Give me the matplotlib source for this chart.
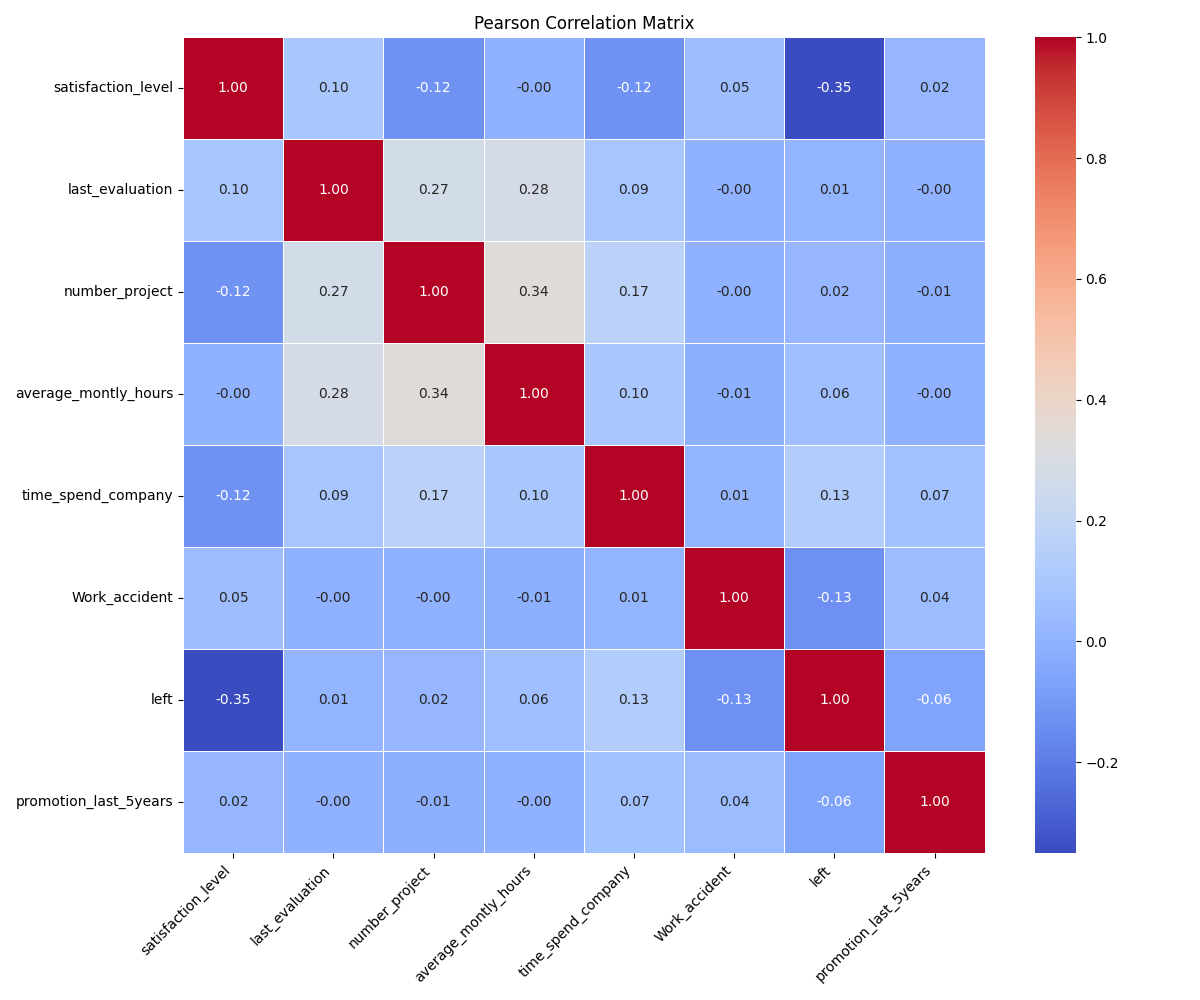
import matplotlib
matplotlib.use("Agg")
import matplotlib.pyplot as plt
import seaborn as sns
import numpy as np
import pandas as pd

labels = ["satisfaction_level", "last_evaluation", "number_project",
          "average_montly_hours", "time_spend_company", "Work_accident",
          "left", "promotion_last_5years"]

row_satisfaction = [1.00, 0.10, -0.12, -0.004, -0.12, 0.05, -0.351, 0.02]
row_last_eval = [0.10, 1.00, 0.27, 0.28, 0.09, -0.004, 0.01, -0.004]
row_num_project = [-0.12, 0.27, 1.00, 0.34, 0.17, -0.004, 0.02, -0.01]
row_avg_hours = [-0.004, 0.28, 0.34, 1.00, 0.10, -0.01, 0.06, -0.004]
row_time_spend = [-0.12, 0.09, 0.17, 0.10, 1.00, 0.01, 0.13, 0.07]
row_work_accident = [0.05, -0.004, -0.004, -0.01, 0.01, 1.00, -0.13, 0.04]
row_left = [-0.351, 0.01, 0.02, 0.06, 0.13, -0.13, 1.00, -0.06]
row_promotion = [0.02, -0.004, -0.01, -0.004, 0.07, 0.04, -0.06, 1.00]

corr = pd.DataFrame([row_satisfaction, row_last_eval, row_num_project, row_avg_hours,
                     row_time_spend, row_work_accident, row_left, row_promotion],
                    index=labels, columns=labels)

fig, ax = plt.subplots(figsize=(12, 10), dpi=100)
sns.heatmap(corr, annot=True, fmt=".2f", cmap="coolwarm", linewidths=0.5, ax=ax)
ax.set_title("Pearson Correlation Matrix")
plt.xticks(rotation=45, ha="right")
plt.yticks(rotation=0)
plt.tight_layout()
plt.savefig("out.png", dpi=100)
